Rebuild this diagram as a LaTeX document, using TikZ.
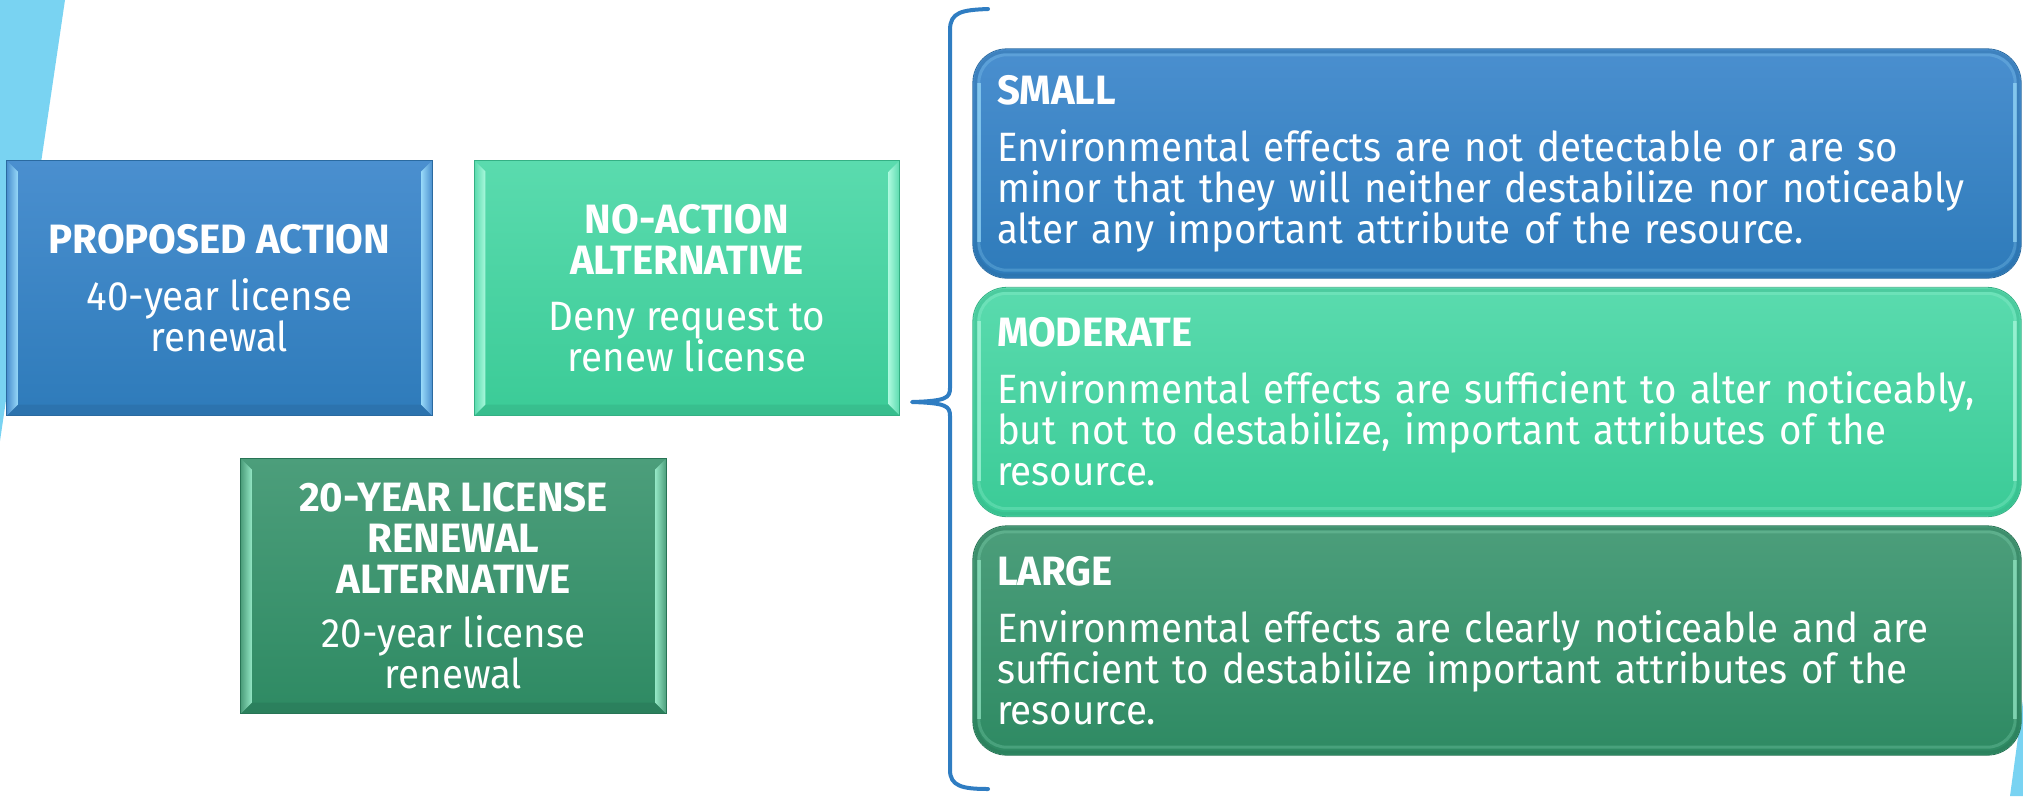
\documentclass[tikz,border=0pt]{standalone}
\usepackage{fontspec}
\setmainfont{Fira Sans}[FakeStretch=0.94, BoldFeatures={FakeStretch=0.98}]
\usetikzlibrary{calc}
\definecolor{sky}{HTML}{79D3F2}
\definecolor{blueT}{HTML}{4A8FCF}
\definecolor{blueB}{HTML}{2E7BBA}
\definecolor{blueL}{HTML}{96D8F8}
\definecolor{blueD}{HTML}{2A6AA0}
\definecolor{tealT}{HTML}{5ADBAE}
\definecolor{tealB}{HTML}{3BCB97}
\definecolor{tealL}{HTML}{A8F8DC}
\definecolor{tealD}{HTML}{34B084}
\definecolor{greenT}{HTML}{4C9E7B}
\definecolor{greenB}{HTML}{2E8A63}
\definecolor{greenL}{HTML}{93E6C4}
\definecolor{greenD}{HTML}{287455}
\definecolor{bracec}{HTML}{2F7DC2}
\newcommand\sqbevel[4]{%
  \shade[left color=#4, right color=#2] (#1.north west) -- (#1.south west) -- ([shift={(11,11)}]#1.south west) -- ([shift={(11,-11)}]#1.north west) -- cycle;
  \shade[left color=#2, right color=#4] (#1.north east) -- (#1.south east) -- ([shift={(-11,11)}]#1.south east) -- ([shift={(-11,-11)}]#1.north east) -- cycle;
  \fill[#3, opacity=0.45] (#1.south west) -- (#1.south east) -- ([shift={(-11,11)}]#1.south east) -- ([shift={(11,11)}]#1.south west) -- cycle;
  \fill[#4, opacity=0.25] (#1.north west) -- (#1.north east) -- ([shift={(-11,-11)}]#1.north east) -- ([shift={(11,-11)}]#1.north west) -- cycle;
  \draw[#3, line width=1.2] (#1.north west) rectangle (#1.south east);
}
\newcommand\rdbevel[3]{%
  \draw[#2, line width=3, opacity=0.25, rounded corners=28] ([shift={(6,-6)}]#1.north west) rectangle ([shift={(-6,8)}]#1.south east);
  \draw[#2, line width=4, opacity=0.7] ([shift={(6,-34)}]#1.north west) -- ([shift={(6,36)}]#1.south west);
  \draw[#2, line width=4, opacity=0.7] ([shift={(-6,-34)}]#1.north east) -- ([shift={(-6,36)}]#1.south east);
  \draw[#3, line width=3, opacity=0.35, rounded corners=30] ([shift={(3,-3)}]#1.north west) rectangle ([shift={(-3,3)}]#1.south east);
  \draw[#3, line width=0.8, rounded corners=34] (#1.north west) rectangle (#1.south east);
}
\tikzset{
  sqbox/.style={rectangle, minimum width=425, minimum height=255, inner sep=0,
    align=center, text=white, font=\fontsize{41}{41}\selectfont},
  rdbox/.style={rectangle, rounded corners=34, minimum width=1048, minimum height=229,
    inner xsep=24, inner ysep=0, text width=1000, align=left, text=white,
    font=\fontsize{41}{41}\selectfont},
  bluefill/.style={top color=blueT, bottom color=blueB},
  tealfill/.style={top color=tealT, bottom color=tealB},
  greenfill/.style={top color=greenT, bottom color=greenB},
  brace/.style={draw=bracec, line width=4, line cap=round, line join=round},
}
\begin{document}
\begin{tikzpicture}[x=1pt,y=1pt]
\useasboundingbox (0,0) rectangle (2023,-796);
\fill[sky] (0,0) -- (65,0) -- (0,-441) -- cycle;
\fill[sky] (2023,-700) -- (2023,-796) -- (2010,-796) -- cycle;

\node[sqbox, bluefill] (prop) at (219.5,-288) {\textbf{PROPOSED ACTION}\\[16pt]40-year license\\renewal};
\sqbevel{prop}{blueL}{blueD}{blueT}
\node[sqbox, tealfill] (noact) at (687,-288) {\textbf{NO-ACTION}\\\textbf{ALTERNATIVE}\\[15pt]Deny request to\\renew license};
\sqbevel{noact}{tealL}{tealD}{tealT}
\node[sqbox, greenfill] (twenty) at (453.5,-586) {\textbf{20-YEAR LICENSE}\\\textbf{RENEWAL}\\\textbf{ALTERNATIVE}\\[13pt]20-year license\\renewal};
\sqbevel{twenty}{greenL}{greenD}{greenT}

\draw[brace] (988,-9) .. controls (962,-10) and (950,-12) .. (950,-30) -- (950,-388)
  .. controls (950,-398) and (946,-401) .. (912,-402)
  .. controls (946,-403) and (950,-406) .. (950,-416) -- (950,-770)
  .. controls (950,-786) and (962,-789) .. (988,-789);

\node[rdbox, bluefill] (small) at (1497,-163.5) {\textbf{SMALL}\\[16pt]Environmental effects are not detectable or are so\\minor that they will neither destabilize nor noticeably\\alter any important attribute of the resource.};
\rdbevel{small}{blueL}{blueD}
\node[rdbox, tealfill] (moderate) at (1497,-402) {\textbf{MODERATE}\\[16pt]Environmental effects are sufficient to alter noticeably,\\but not to destabilize, important attributes of the\\resource.};
\rdbevel{moderate}{tealL}{tealD}
\node[rdbox, greenfill] (large) at (1497,-640.5) {\textbf{LARGE}\\[16pt]Environmental effects are clearly noticeable and are\\sufficient to destabilize important attributes of the\\resource.};
\rdbevel{large}{greenL}{greenD}
\end{tikzpicture}
\end{document}
